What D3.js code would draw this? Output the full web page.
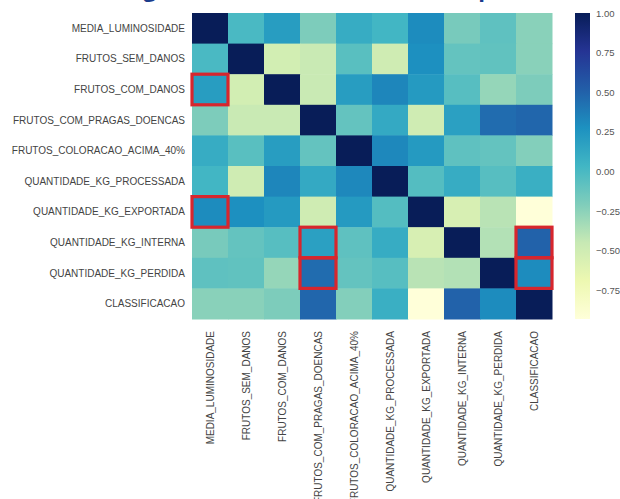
<!DOCTYPE html>
<html>
<head>
<meta charset="utf-8">
<script src="https://cdn.jsdelivr.net/npm/d3@7"></script>
<style>
  body { margin: 0; background: #fff; }
  text { font-family: "Liberation Sans", Arial, sans-serif; }
</style>
</head>
<body>
<div id="chart"></div>
<script>
// variables, same order on both axes
const labels = [
  "MEDIA_LUMINOSIDADE",
  "FRUTOS_SEM_DANOS",
  "FRUTOS_COM_DANOS",
  "FRUTOS_COM_PRAGAS_DOENCAS",
  "FRUTOS_COLORACAO_ACIMA_40%",
  "QUANTIDADE_KG_PROCESSADA",
  "QUANTIDADE_KG_EXPORTADA",
  "QUANTIDADE_KG_INTERNA",
  "QUANTIDADE_KG_PERDIDA",
  "CLASSIFICACAO"
];

// correlation matrix (rows)
const corr = [
  [ 1.00,  0.00,  0.20, -0.20,  0.10,  0.03,  0.30, -0.18, -0.08, -0.24],
  [ 0.00,  1.00, -0.52, -0.46, -0.06, -0.50,  0.28, -0.10, -0.09, -0.24],
  [ 0.20, -0.52,  1.00, -0.46,  0.20,  0.33,  0.22, -0.05, -0.28, -0.20],
  [-0.20, -0.46, -0.46,  1.00, -0.10,  0.12, -0.50,  0.18,  0.45,  0.48],
  [ 0.10, -0.06,  0.20, -0.10,  1.00,  0.32,  0.22, -0.08, -0.10, -0.22],
  [ 0.03, -0.50,  0.33,  0.12,  0.32,  1.00, -0.04,  0.10, -0.05,  0.08],
  [ 0.30,  0.28,  0.22, -0.50,  0.22, -0.04,  1.00, -0.55, -0.40, -0.93],
  [-0.18, -0.10, -0.05,  0.18, -0.08,  0.10, -0.55,  1.00, -0.38,  0.50],
  [-0.08, -0.09, -0.28,  0.45, -0.10, -0.05, -0.40, -0.38,  1.00,  0.30],
  [-0.24, -0.24, -0.20,  0.48, -0.22,  0.08, -0.93,  0.50,  0.30,  1.00]
];

// cells marked with a red box: [row, col]
const highlighted = [[2, 0], [6, 0], [7, 3], [8, 3], [7, 9], [8, 9]];

const cbarTicks = [-0.75, -0.50, -0.25, 0.00, 0.25, 0.50, 0.75, 1.00];

const titleText = "Figura 5 – Resultado do heatmap";

// YlGnBu (matplotlib)
const palette = ["#ffffd9", "#edf8b1", "#c7e9b4", "#7fcdbb", "#41b6c4",
                 "#1d91c0", "#225ea8", "#253494", "#081d58"];

const WIDTH = 620;
const HEIGHT = 499;
const LEFT = 192, RIGHT = 552, TOP = 13, BOTTOM = 319;

const cells = [];
corr.forEach((row, i) => row.forEach((v, j) => cells.push({ row: i, col: j, value: v })));

const vmin = d3.min(cells, d => d.value);
const vmax = d3.max(cells, d => d.value);

const color = d3.scaleLinear()
  .domain(palette.map((c, i) => vmin + (vmax - vmin) * i / (palette.length - 1)))
  .range(palette)
  .interpolate(d3.interpolateRgb);

const x = d3.scaleBand().domain(d3.range(labels.length)).range([LEFT, RIGHT]);
const y = d3.scaleBand().domain(d3.range(labels.length)).range([TOP, BOTTOM]);

const $svg = d3.select("#chart").append("svg")
  .attr("width", WIDTH)
  .attr("height", HEIGHT);

// title, cut off at the top of the picture (only descenders show)
$svg.append("text")
  .attr("x", 124)
  .attr("y", -2.8)
  .attr("fill", "#1b3c8c")
  .style("font-family", "'Open Sans', sans-serif")
  .style("font-weight", "bold")
  .style("font-size", "22px")
  .style("letter-spacing", "0.35px")
  .text(titleText);

// cells
$svg.append("g").selectAll("rect")
  .data(cells)
  .join("rect")
  .attr("x", d => x(d.col))
  .attr("y", d => y(d.row))
  .attr("width", x.bandwidth() + 0.5)
  .attr("height", y.bandwidth() + 0.5)
  .attr("fill", d => color(d.value));

// red highlight boxes
$svg.append("g").selectAll("rect")
  .data(highlighted)
  .join("rect")
  .attr("x", d => x(d[1]))
  .attr("y", d => y(d[0]))
  .attr("width", x.bandwidth())
  .attr("height", y.bandwidth())
  .attr("fill", "none")
  .attr("stroke", "#d7262d")
  .attr("stroke-width", 3.2);

// row labels
$svg.append("g").selectAll("text")
  .data(labels)
  .join("text")
  .attr("x", LEFT - 7)
  .attr("y", (d, i) => y(i) + y.bandwidth() / 2)
  .attr("dy", "0.35em")
  .attr("text-anchor", "end")
  .attr("fill", "#444")
  .style("font-size", "10px")
  .text(d => d);

// column labels (rotated)
$svg.append("g").selectAll("text")
  .data(labels)
  .join("text")
  .attr("transform", (d, i) => `translate(${x(i) + x.bandwidth() / 2},${BOTTOM + 12}) rotate(-90)`)
  .attr("dy", "0.35em")
  .attr("text-anchor", "end")
  .attr("fill", "#444")
  .style("font-size", "10px")
  .text(d => d);

// colorbar
const CB_X = 575, CB_W = 15;
const cbScale = d3.scaleLinear().domain([vmin, vmax]).range([BOTTOM, TOP]);

const grad = $svg.append("defs").append("linearGradient")
  .attr("id", "cbar")
  .attr("x1", 0).attr("y1", 1)
  .attr("x2", 0).attr("y2", 0);
grad.selectAll("stop")
  .data(color.domain())
  .join("stop")
  .attr("offset", d => (d - vmin) / (vmax - vmin))
  .attr("stop-color", d => color(d));

$svg.append("rect")
  .attr("x", CB_X)
  .attr("y", TOP)
  .attr("width", CB_W)
  .attr("height", BOTTOM - TOP)
  .attr("fill", "url(#cbar)");

const $cbAxis = $svg.append("g")
  .attr("transform", `translate(${CB_X + CB_W},0)`)
  .call(d3.axisRight(cbScale).tickValues(cbarTicks).tickFormat(d3.format(".2f")).tickSize(0).tickPadding(6));
$cbAxis.select(".domain").remove();
$cbAxis.selectAll("text")
  .attr("fill", "#555")
  .style("font-size", "9.5px")
  .style("font-family", "'Liberation Sans', Arial, sans-serif");
</script>
</body>
</html>
